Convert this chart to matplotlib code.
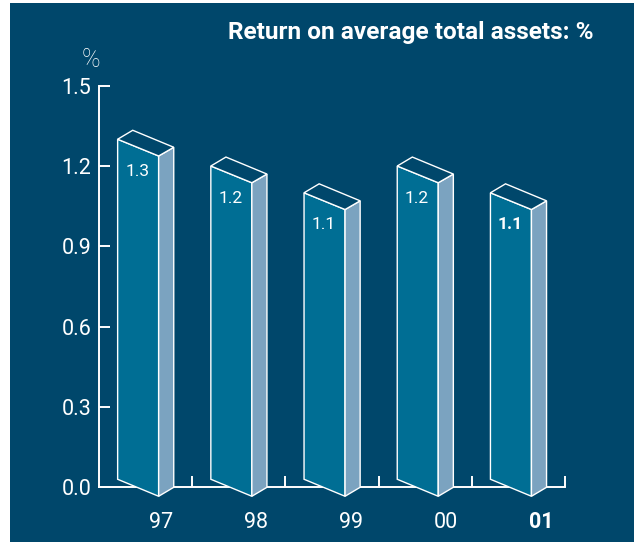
#!/usr/bin/env python3

import matplotlib
matplotlib.use('Agg')
import matplotlib.pyplot as plt

from matplotlib.patches import Polygon, Rectangle

years = ['97', '98', '99', '00', '01']
values = [1.3, 1.2, 1.1, 1.2, 1.1]
y_ticks = [0.0, 0.3, 0.6, 0.9, 1.2, 1.5]

W, H = 639, 542
BG = '#00476b'
FRONT = '#006e94'
SIDE = '#7ba3c0'
WHITE = '#ffffff'

plt.rcParams['font.family'] = ['Roboto', 'DejaVu Sans']

def px_x(x):
    return x / W

def px_y(y):
    return 1 - y / H

def draw_bar(ax, i, v):
    # bar geometry in axis units, 93.2 px per category and 267.7 px per unit
    left = i + 0.2
    right = left + 0.44
    back = right + 0.162
    drop = 0.0625
    rise = 0.0335
    foot = 0.03

    ax.add_patch(Polygon([(left, foot), (right, -rise), (right, v - drop), (left, v)],
                         facecolor=FRONT, edgecolor=WHITE, lw=1.0, zorder=5, clip_on=False))
    ax.add_patch(Polygon([(right, -rise), (back, 0), (back, v - foot), (right, v - drop)],
                         facecolor=SIDE, edgecolor=WHITE, lw=1.0, zorder=5, clip_on=False))
    ax.add_patch(Polygon([(left, v), (right, v - drop), (back, v - foot), (left + 0.162, v + rise)],
                         facecolor=BG, edgecolor=WHITE, lw=1.0, zorder=5, clip_on=False))

    weight = 'bold' if years[i] == '01' else 'normal'
    ax.text(i + 0.41, v - 0.12, f'{v:.1f}', color=WHITE, fontsize=12.5, fontweight=weight,
            ha='center', va='center', zorder=6)

def main():
    fig = plt.figure(figsize=(W / 100, H / 100), dpi=100, facecolor=WHITE)
    fig.add_artist(Rectangle((px_x(10), 0), px_x(634 - 10), px_y(3), transform=fig.transFigure,
                             facecolor=BG, edgecolor='none', zorder=-1))

    ax = fig.add_axes([px_x(99), px_y(487.3), px_x(565 - 99), (487.3 - 85.7) / H])
    ax.patch.set_visible(False)
    ax.set_xlim(0, 5)
    ax.set_ylim(0, 1.5)

    for side in ('top', 'right'):
        ax.spines[side].set_visible(False)
    for side in ('left', 'bottom'):
        ax.spines[side].set_color(WHITE)
        ax.spines[side].set_linewidth(1.4)

    ax.set_yticks(y_ticks)
    ax.set_yticklabels([f'{t:.1f}' for t in y_ticks])
    ax.set_xticks(range(1, len(years) + 1))
    ax.set_xticklabels([])
    ax.tick_params(axis='both', direction='in', color=WHITE, width=1.4, length=8)
    ax.tick_params(axis='y', labelcolor=WHITE, labelsize=15.5, pad=5.5)

    for i, v in enumerate(values):
        draw_bar(ax, i, v)

    for i, year in enumerate(years):
        ax.text(i * 1.02 + 0.665, -0.13, year, color=WHITE, fontsize=15.5,
                fontweight='bold' if year == '01' else 'normal', ha='center', va='center')

    ax.text(-0.086, 1.595, '%', color=WHITE, fontsize=18, fontweight='light', ha='center', va='center')

    fig.text(px_x(594), px_y(32), 'Return on average total assets: %', color=WHITE,
             fontsize=17.6, fontweight='bold', ha='right', va='center')

    fig.savefig('out.png', dpi=100, facecolor=WHITE)

if __name__ == '__main__':
    main()
